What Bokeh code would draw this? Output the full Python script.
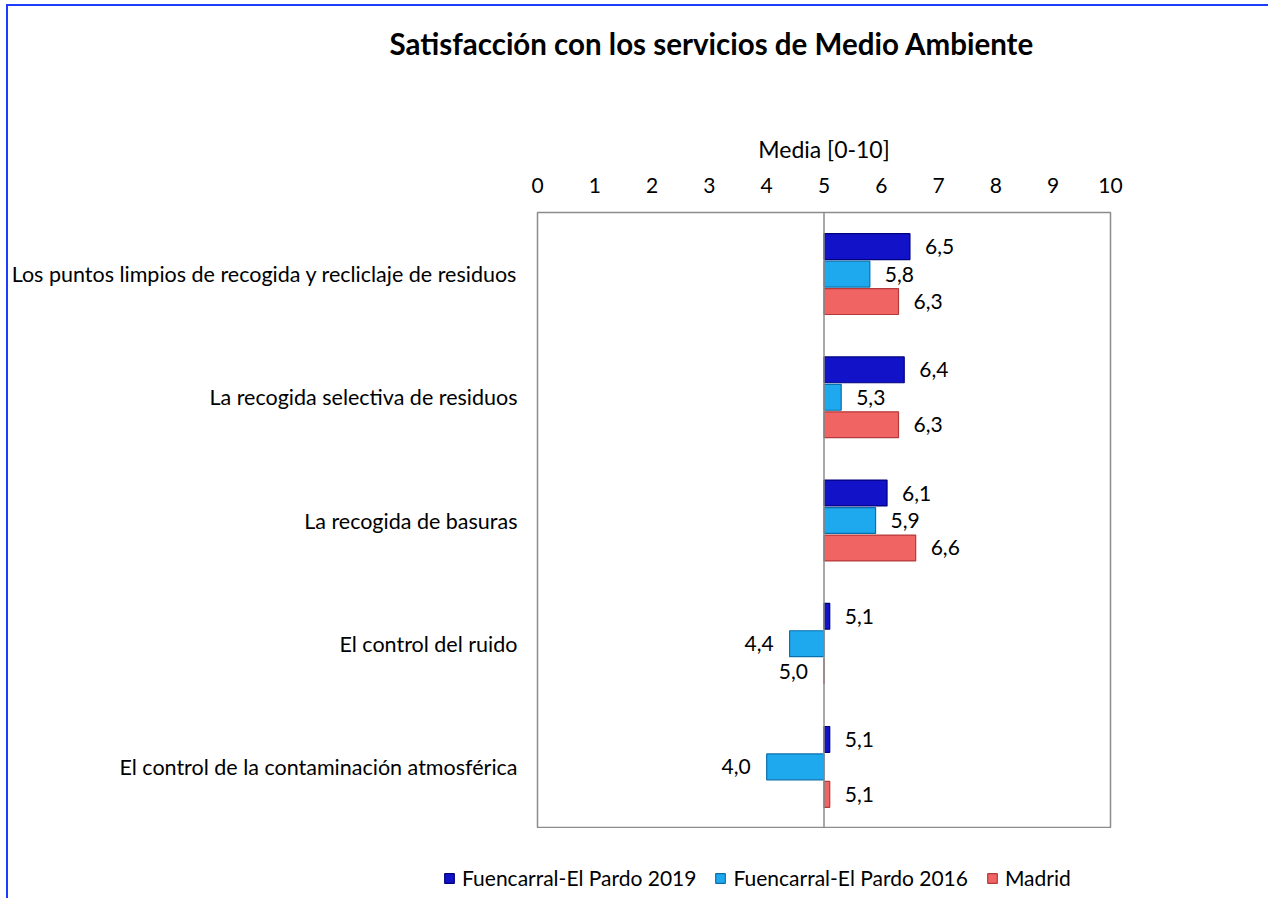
from bokeh.plotting import figure
from bokeh.layouts import column
from bokeh.models import (ColumnDataSource, Span, Legend, LegendItem, Range1d,
                          FactorRange, FixedTicker, Title)
from bokeh.embed import file_html
from bokeh.resources import INLINE
from bokeh.core.properties import value
from bokeh.transform import dodge

categories = [
    "Los puntos limpios de recogida y recliclaje de residuos",
    "La recogida selectiva de residuos",
    "La recogida de basuras",
    "El control del ruido",
    "El control de la contaminación atmosférica",
]
series_names = ["Fuencarral-El Pardo 2019", "Fuencarral-El Pardo 2016", "Madrid"]
v2019 = [6.5, 6.4, 6.1, 5.1, 5.1]
v2016 = [5.8, 5.3, 5.9, 4.4, 4.0]
vmadrid = [6.3, 6.3, 6.6, 5.0, 5.1]
x_ticks = [0, 1, 2, 3, 4, 5, 6, 7, 8, 9, 10]
baseline = 5

FONT = "Lato"
FS = "21px"
fills = ["#1212c8", "#1ea9ef", "#f06464"]
lines = ["#00007e", "#0a70ad", "#b53a3a"]
offsets = [0.223, 0.0, -0.223]

p = figure(width=1260, height=822, output_backend="svg", toolbar_location=None,
           x_range=Range1d(0, 10), y_range=FactorRange(factors=list(reversed(categories))),
           x_axis_location="above",
           min_border_left=529, min_border_right=158, min_border_top=0, min_border_bottom=0)
p.frame_align = False

p.grid.visible = False
p.outline_line_color = "#8c8c8c"
p.outline_line_width = 1.5
p.background_fill_color = "white"
p.border_fill_color = "white"

xa = p.xaxis[0]
xa.ticker = FixedTicker(ticks=x_ticks)
xa.axis_line_color = None
xa.major_tick_line_color = None
xa.minor_tick_line_color = None
xa.major_tick_out = 0
xa.major_tick_in = 0
xa.minor_tick_out = 0
xa.minor_tick_in = 0
xa.major_label_text_font = FONT
xa.major_label_text_font_size = FS
xa.major_label_text_color = "#000000"
xa.major_label_standoff = 20
xa.axis_label = "Media [0-10]"
xa.axis_label_text_font = FONT
xa.axis_label_text_font_size = "23px"
xa.axis_label_text_font_style = "normal"
xa.axis_label_text_color = "#000000"
xa.axis_label_standoff = 12

ya = p.yaxis[0]
ya.axis_line_color = None
ya.major_tick_line_color = None
ya.minor_tick_line_color = None
ya.major_tick_out = 0
ya.major_tick_in = 0
ya.minor_tick_out = 0
ya.minor_tick_in = 0
ya.major_label_text_font = FONT
ya.major_label_text_font_size = "21.5px"
ya.major_label_text_color = "#000000"
ya.major_label_standoff = 20

p.add_layout(Span(location=baseline, dimension="height", line_color="#8c8c8c", line_width=1.5))

for vals, fc, lc, off in zip([v2019, v2016, vmadrid], fills, lines, offsets):
    labels = [f"{v:.1f}".replace(".", ",") for v in vals]
    aligns = ["left" if v > baseline else "right" for v in vals]
    xoffs = [15 if v > baseline else -16 for v in vals]
    src = ColumnDataSource(dict(cat=categories, v=vals, lab=labels, al=aligns, xo=xoffs,
                                base=[baseline] * len(vals)))
    p.hbar(y=dodge("cat", off, range=p.y_range), left="base", right="v", height=0.21,
           fill_color=fc, line_color=lc, line_width=1.2, source=src)
    p.text(x="v", y=dodge("cat", off, range=p.y_range), text="lab", text_align="al",
           x_offset="xo", text_baseline="middle", text_font=value(FONT),
           text_font_size=FS, text_color="#000000", source=src)

# spacer between axis and title
p.add_layout(Title(text=" ", text_font_size="1px", standoff=50), "above")

p.title.text = "Satisfacción con los servicios de Medio Ambiente"
p.title.align = "left"
p.title.offset = -148
p.title.text_font = FONT
p.title.text_font_size = "29.5px"
p.title.text_font_style = "bold"
p.title.text_color = "#000000"
p.title.standoff = 35

# legend strip below the chart (its swatch renderers sit outside its visible range)
pl = figure(width=1260, height=70, output_backend="svg", toolbar_location=None,
            x_axis_location=None, y_axis_location=None,
            x_range=Range1d(0, 1), y_range=Range1d(0, 1),
            min_border_left=0, min_border_right=0, min_border_top=0, min_border_bottom=0)
pl.frame_align = False
pl.grid.visible = False
pl.outline_line_color = None
pl.background_fill_color = "white"
pl.border_fill_color = "white"

leg_renderers = []
for vals, fc, lc in zip([v2019, v2016, vmadrid], fills, lines):
    leg_renderers.append(pl.quad(left=[baseline], right=[vals[0]], top=[vals[0]], bottom=[baseline],
                                 fill_color=fc, line_color=lc, line_width=1.2))

legend = Legend(items=[LegendItem(label=n, renderers=[r]) for n, r in zip(series_names, leg_renderers)],
                orientation="horizontal", location=(435, 8),
                glyph_width=12, glyph_height=12, label_standoff=7, spacing=18,
                label_text_font=FONT, label_text_font_size=FS, label_text_color="#000000",
                border_line_color=None, background_fill_alpha=0, padding=0, margin=0)
pl.add_layout(legend, "center")

layout = column(p, pl, spacing=0)
layout.styles = {"border-left": "2px solid #1a3dff", "border-top": "2px solid #1a3dff",
                 "margin-left": "6px", "margin-top": "4px"}

open("out.html", "w").write(file_html(layout, INLINE))
